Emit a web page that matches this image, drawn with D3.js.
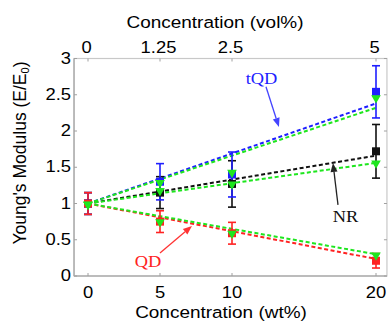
<!DOCTYPE html>
<html><head><meta charset="utf-8">
<script src="https://cdn.jsdelivr.net/npm/d3@7"></script>
<style>html,body{margin:0;padding:0;background:#fff;}svg{display:block;}</style>
</head><body>
<script>
// ---- data ----
const wt = [0, 5, 10, 20];
const wtTicks = [0, 5, 10, 20];
const volTicks = [0, 1.25, 2.5, 5];
const yTicks = [0, 0.5, 1, 1.5, 2, 2.5, 3];

const tqdMean = [1.00, 1.30, 1.40, 2.54];
const tqdErr  = [0.15, 0.25, 0.31, 0.36];
const nrMean  = [1.00, 1.15, 1.27, 1.72];
const nrErr   = [0.15, 0.22, 0.32, 0.37];
const qdMean  = [1.00, 0.75, 0.59, 0.21];
const qdErr   = [0.15, 0.15, 0.15, 0.10];

const tqdModel = [1.00, 1.30, 1.44, 2.47];
const nrModel  = [1.00, 1.19, 1.28, 1.57];
const qdModel  = [1.00, 0.76, 0.60, 0.30];

const fitX = [0, 20];
const tqdFit = [1.00, 2.38];
const nrFit  = [1.00, 1.66];
const qdFit  = [1.00, 0.235];
const tqdModelFit = [1.00, 2.32];
const nrModelFit  = [1.00, 1.56];
const qdModelFit  = [1.00, 0.30];

// ---- setup ----
const W = 390, H = 322;
const svg = d3.select("body").append("svg").attr("width", W).attr("height", H);
const x = d3.scaleLinear().domain([0, 20]).range([88, 376]);
const xv = d3.scaleLinear().domain([0, 5]).range([88, 376]);
const y = d3.scaleLinear().domain([0, 3]).range([276, 58.5]);
const xL = x(-0.97), xR = x(20.76), yB = y(0), yT = y(3);

const BLUE = "#1f1fff", RED = "#ff2222", GREEN = "#1ee61e", BLACK = "#111";
const SANS = "'Liberation Sans', Arial, Helvetica, sans-serif";
const SERIF = "'Liberation Serif', 'Times New Roman', serif";
const SX = 1.15;

function stext(g, px, py, str, size, anchor, fill, family) {
  return g.append("text")
    .attr("transform", `translate(${px},${py}) scale(${SX},1)`)
    .attr("text-anchor", anchor)
    .attr("font-family", family || SANS)
    .attr("font-size", size)
    .attr("fill", fill || "#000")
    .text(str);
}

// frame
const frame = svg.append("g");
frame.append("rect").attr("x", xL).attr("y", yT).attr("width", xR - xL).attr("height", yB - yT)
  .attr("fill", "none").attr("stroke", "#c8c8c8").attr("stroke-width", 1.2);
frame.append("line").attr("x1", xL).attr("x2", xL).attr("y1", yT).attr("y2", yB).attr("stroke", "#b0b0b0").attr("stroke-width", 1.5);
frame.append("line").attr("x1", xL).attr("x2", xR).attr("y1", yB).attr("y2", yB).attr("stroke", "#b0b0b0").attr("stroke-width", 1.5);

// ticks (inward, small)
const tk = svg.append("g").attr("stroke", "#a0a0a0").attr("stroke-width", 1);
wtTicks.forEach(t => {
  tk.append("line").attr("x1", x(t)).attr("x2", x(t)).attr("y1", yB).attr("y2", yB - 3);
});
volTicks.forEach(t => {
  tk.append("line").attr("x1", xv(t)).attr("x2", xv(t)).attr("y1", yT).attr("y2", yT + 3);
});
yTicks.forEach(t => {
  tk.append("line").attr("x1", xL).attr("x2", xL + 3).attr("y1", y(t)).attr("y2", y(t));
  tk.append("line").attr("x1", xR).attr("x2", xR - 3).attr("y1", y(t)).attr("y2", y(t));
});

// tick labels
const lab = svg.append("g");
wtTicks.forEach(t => stext(lab, x(t), 298, String(t), 16, "middle"));
volTicks.forEach(t => stext(lab, xv(t) - 1.5, 52.5, String(t), 16, "middle"));
yTicks.forEach(t => stext(lab, 71, y(t) + 5, String(t), 16, "end"));

// axis titles
stext(lab, 221, 318, "Concentration (wt%)", 16.5, "middle");
stext(lab, 215, 28, "Concentration (vol%)", 16.5, "middle");
const yl = lab.append("text")
  .attr("transform", `translate(26,153) rotate(-90)`)
  .attr("text-anchor", "middle")
  .attr("font-family", SANS).attr("font-size", 17.5).attr("fill", "#000");
yl.append("tspan").text("Young's Modulus (E/E");
yl.append("tspan").attr("font-size", 11).attr("dy", 3).text("0");
yl.append("tspan").attr("dy", -3).text(")");

// dashed lines
const plot = svg.append("g");
const lineGen = (xs, ys) => d3.line().x((d, i) => x(xs[i])).y(d => y(d))(ys);
function dashed(xs, ys, color) {
  plot.append("path").attr("d", lineGen(xs, ys)).attr("fill", "none")
    .attr("stroke", color).attr("stroke-width", 2).attr("stroke-dasharray", "4,2.5");
}
dashed(fitX, tqdFit, BLUE);
dashed(fitX, nrFit, BLACK);
dashed(fitX, qdFit, RED);
dashed(fitX, tqdModelFit, GREEN);
dashed(fitX, nrModelFit, GREEN);
dashed(fitX, qdModelFit, GREEN);

// error bars
function errbars(means, errs, color) {
  const g = plot.append("g").attr("stroke", color).attr("stroke-width", 1.6);
  wt.forEach((w, i) => {
    const cx = x(w), y1 = y(means[i] + errs[i]), y2 = y(means[i] - errs[i]);
    g.append("line").attr("x1", cx).attr("x2", cx).attr("y1", y1).attr("y2", y2);
    g.append("line").attr("x1", cx - 4).attr("x2", cx + 4).attr("y1", y1).attr("y2", y1);
    g.append("line").attr("x1", cx - 4).attr("x2", cx + 4).attr("y1", y2).attr("y2", y2);
  });
}
errbars(nrMean, nrErr, BLACK);
errbars(tqdMean, tqdErr, BLUE);
errbars(qdMean, qdErr, RED);

// squares
function squares(means, color) {
  plot.append("g").selectAll("rect").data(means).join("rect")
    .attr("x", (d, i) => x(wt[i]) - 4).attr("y", d => y(d) - 4)
    .attr("width", 8).attr("height", 8).attr("fill", color);
}
squares(nrMean, BLACK);
squares(tqdMean, BLUE);
squares(qdMean, RED);

// model triangles (pointing down)
const tri = d3.symbol().type(d3.symbolTriangle).size(40);
function triangles(vals) {
  plot.append("g").selectAll("path").data(vals).join("path")
    .attr("d", tri)
    .attr("transform", (d, i) => `translate(${x(wt[i])},${y(d) + 1}) rotate(180)`)
    .attr("fill", GREEN);
}
triangles(tqdModel);
triangles(nrModel);
triangles(qdModel);

// annotations
function arrow(x1, y1, x2, y2, color) {
  const ax1 = x(x1), ay1 = y(y1), ax2 = x(x2), ay2 = y(y2);
  const ang = Math.atan2(ay2 - ay1, ax2 - ax1);
  const L = 9, Wd = 3.5;
  const bx = ax2 - L * Math.cos(ang), by = ay2 - L * Math.sin(ang);
  plot.append("line").attr("x1", ax1).attr("y1", ay1).attr("x2", bx).attr("y2", by)
    .attr("stroke", color).attr("stroke-width", 1.3);
  const px = -Math.sin(ang) * Wd, py = Math.cos(ang) * Wd;
  plot.append("path")
    .attr("d", `M${ax2},${ay2}L${bx + px},${by + py}L${bx - px},${by - py}Z`)
    .attr("fill", color);
}
arrow(12.36, 2.61, 13.26, 2.055, "#4444ff");
arrow(17.36, 0.98, 17.01, 1.56, "#222");
arrow(5.0, 0.317, 7.22, 0.69, "#ff3333");

const ann = svg.append("g");
stext(ann, x(12.05), y(2.65), "tQD", 16, "middle", BLUE, SERIF);
stext(ann, x(17.88), y(0.75), "NR", 16, "middle", "#111", SERIF);
stext(ann, x(4.17), y(0.124), "QD", 16, "middle", RED, SERIF);
</script>
</body></html>
